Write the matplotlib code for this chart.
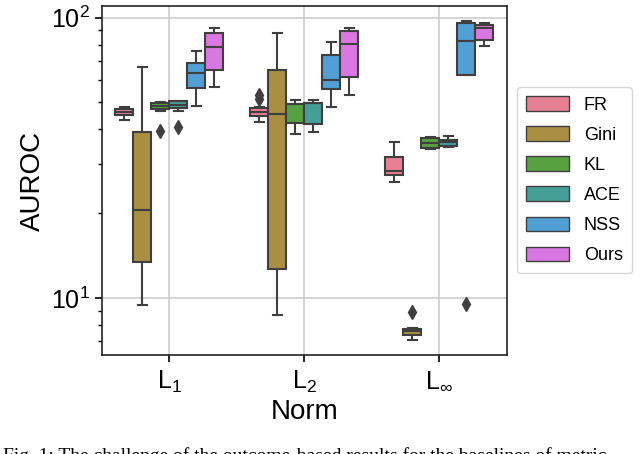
import numpy as np
import matplotlib
matplotlib.use("Agg")
import matplotlib.pyplot as plt
import matplotlib.patches as mpatches
import seaborn as sns

methods = ["FR", "Gini", "KL", "ACE", "NSS", "Ours"]
norms = [r"$\mathregular{L_1}$", r"$\mathregular{L_2}$", r"$\mathregular{L_\infty}$"]

# box statistics, one row per method, columns L1, L2, Linf
whis_hi = [[48.0, 48.0, 36.0],
           [66.5, 88.2, 7.82],
           [50.0, 50.7, 37.6],
           [50.3, 50.8, 37.8],
           [75.8, 82.1, 96.8],
           [91.6, 91.4, 95.2]]
q3 = [[47.3, 47.5, 31.9],
      [38.9, 65.2, 7.73],
      [49.4, 49.2, 37.3],
      [50.3, 49.4, 36.7],
      [69.1, 73.2, 95.2],
      [88.2, 89.4, 93.9]]
med = [[46.0, 46.0, 28.3],
       [20.5, 45.3, 7.62],
       [48.2, 49.2, 35.7],
       [48.9, 49.4, 35.9],
       [63.3, 59.9, 82.3],
       [78.3, 80.5, 91.9]]
q1 = [[44.9, 44.7, 27.5],
      [13.4, 12.7, 7.38],
      [47.3, 41.9, 34.2],
      [47.6, 41.6, 34.7],
      [56.1, 55.6, 62.6],
      [65.1, 61.1, 83.4]]
whis_lo = [[43.0, 42.3, 25.8],
           [9.4, 8.71, 7.10],
           [46.3, 38.5, 34.0],
           [46.5, 39.1, 34.5],
           [48.2, 47.8, 62.6],
           [56.4, 53.1, 79.4]]
fliers = [[[], [52.8, 51.2], []],
          [[], [], [8.89]],
          [[39.5], [], []],
          [[40.6], [], []],
          [[], [], [9.49]],
          [[], [], []]]

plt.rcParams["font.family"] = ["Liberation Sans", "DejaVu Sans"]
plt.rcParams["mathtext.default"] = "regular"

colors = sns.color_palette("husl", len(methods), desat=0.75)
line_c = "#3f3f3f"

fig = plt.figure(figsize=(6.4, 4.54), dpi=100)
ax = fig.add_axes([0.159, 0.218, 0.633, 0.769])

n = len(methods)
w = 0.8 / n
for i, m in enumerate(methods):
    stats = []
    for j in range(len(norms)):
        stats.append(dict(med=med[i][j], q1=q1[i][j], q3=q3[i][j],
                          whislo=whis_lo[i][j], whishi=whis_hi[i][j],
                          fliers=fliers[i][j]))
    pos = np.arange(len(norms)) - 0.4 + w * (i + 0.5)
    ax.bxp(stats, positions=pos, widths=w, patch_artist=True, showfliers=True,
           boxprops=dict(facecolor=colors[i], edgecolor=line_c, linewidth=1.5),
           medianprops=dict(color=line_c, linewidth=1.5),
           whiskerprops=dict(color=line_c, linewidth=1.5),
           capprops=dict(color=line_c, linewidth=1.5),
           flierprops=dict(marker="d", markerfacecolor=line_c,
                           markeredgecolor=line_c, markersize=7))

ax.set_yscale("log")
ax.set_ylim(6.25, 110)
ax.set_xlim(-0.5, 2.5)
ax.set_xticks(range(len(norms)))
ax.set_xticklabels(norms)
ax.tick_params(axis="both", labelsize=18, length=5, width=1.2)
ax.tick_params(axis="x", pad=5)
ax.tick_params(axis="y", which="minor", length=3, width=1)
ax.grid(True, which="major", color="#cccccc", linewidth=1.2)
ax.set_axisbelow(True)
for s in ax.spines.values():
    s.set_color("#222222")
    s.set_linewidth(1.2)
ax.set_ylabel("AUROC", fontsize=20)
ax.set_xlabel("Norm", fontsize=20, labelpad=3)

handles = [mpatches.Patch(facecolor=colors[i], edgecolor=line_c, linewidth=1, label=m)
           for i, m in enumerate(methods)]
fig.legend(handles=handles, loc="upper left", bbox_to_anchor=(0.808, 0.808),
           borderaxespad=0, fontsize=13, handlelength=2.4, handleheight=0.85,
           labelspacing=0.7, frameon=True, edgecolor="#cccccc", fancybox=True,
           borderpad=0.5)

fig.text(0.005, 0.016, "Fig. 1: The challenge of the outcome-based results for the baselines of metric",
         fontsize=14, family="Liberation Serif", va="top", ha="left")

fig.savefig("out.png", dpi=100)
